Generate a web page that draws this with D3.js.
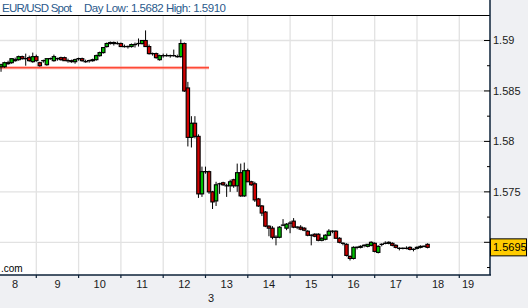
<!DOCTYPE html>
<html>
<head>
<meta charset="utf-8">
<script src="https://cdn.jsdelivr.net/npm/d3@7"></script>
<style>
html, body { margin: 0; padding: 0; background: #eff0f3; }
svg { display: block; font-family: "Liberation Sans", Arial, sans-serif; }
</style>
</head>
<body>
<svg id="chart" width="528" height="308"></svg>
<script>
// --- Chart data ---
const title = "EUR/USD Spot";
const dayLow = "1.5682";
const dayHigh = "1.5910";
const lastPrice = 1.5695;
const refLevel = 1.5873;      // red reference line
const refLevelEndDay = 13.083;
const dayLabels = [8, 9, 10, 11, 12, 13, 14, 15, 16, 17, 18, 19];
const monthLabel = "3";
const priceTicks = [1.57, 1.575, 1.58, 1.585, 1.59];
const priceMinorTicks = [1.5675, 1.5725, 1.5775, 1.5825, 1.5875];

// 2-hour candles, first one centred at 04:00 on day 8
const firstCandleDay = 8;
const firstCandleHour = 4;
const candleHours = 2;

const opens = [
  1.5874,1.5874,1.5878,1.5878,1.5881,1.5881,1.5884,1.5882,1.5883,1.5879,
  1.5884,1.5878,1.5880,1.5876,1.5882,1.5880,1.5882,1.5883,1.5883,1.5880,
  1.5880,1.5879,1.5882,1.5882,1.5879,1.5880,1.5880,1.5881,1.5885,1.5888,
  1.5894,1.5897,1.5898,1.5897,1.5897,1.5894,1.5894,1.5894,1.5896,1.5897,
  1.5897,1.5900,1.5894,1.5887,1.5887,1.5881,1.5885,1.5885,1.5885,1.5885,
  1.5884,1.5884,1.5897,1.5853,1.5804,1.5818,1.5805,1.5748,1.5770,1.5770,
  1.5750,1.5741,1.5758,1.5759,1.5756,1.5756,1.5762,1.5756,1.5769,1.5746,
  1.5771,1.5760,1.5758,1.5743,1.5736,1.5730,1.5716,1.5714,1.5705,1.5705,
  1.5717,1.5714,1.5719,1.5721,1.5715,1.5715,1.5714,1.5711,1.5707,1.5708,
  1.5708,1.5702,1.5703,1.5707,1.5711,1.5711,1.5704,1.5699,1.5698,1.5686,
  1.5684,1.5695,1.5695,1.5697,1.5696,1.5697,1.5699,1.5690,1.5698,1.5699,
  1.5699,1.5699,1.5697,1.5694,1.5694,1.5694,1.5695,1.5693,1.5694,1.5695,
  1.5696,1.5698
];
const highs = [
  1.5877,1.5879,1.5880,1.5882,1.5883,1.5885,1.5885,1.5887,1.5885,1.5888,
  1.5886,1.5879,1.5881,1.5882,1.5883,1.5886,1.5883,1.5884,1.5884,1.5882,
  1.5881,1.5882,1.5883,1.5883,1.5881,1.5881,1.5882,1.5886,1.5889,1.5893,
  1.5898,1.5899,1.5899,1.5899,1.5898,1.5896,1.5895,1.5897,1.5898,1.5902,
  1.5900,1.5910,1.5896,1.5888,1.5888,1.5886,1.5887,1.5887,1.5886,1.5891,
  1.5886,1.5901,1.5898,1.5859,1.5825,1.5825,1.5807,1.5775,1.5775,1.5771,
  1.5751,1.5760,1.5759,1.5760,1.5758,1.5762,1.5763,1.5778,1.5778,1.5779,
  1.5773,1.5761,1.5760,1.5744,1.5737,1.5731,1.5717,1.5716,1.5707,1.5716,
  1.5723,1.5719,1.5721,1.5724,1.5716,1.5717,1.5715,1.5712,1.5708,1.5709,
  1.5709,1.5705,1.5708,1.5713,1.5712,1.5712,1.5705,1.5700,1.5699,1.5687,
  1.5696,1.5696,1.5697,1.5698,1.5698,1.5701,1.5700,1.5697,1.5699,1.5701,
  1.5701,1.5700,1.5698,1.5695,1.5695,1.5696,1.5696,1.5694,1.5696,1.5697,
  1.5697,1.5699
];
const lows = [
  1.5869,1.5873,1.5876,1.5877,1.5879,1.5880,1.5881,1.5875,1.5879,1.5878,
  1.5879,1.5874,1.5878,1.5875,1.5881,1.5879,1.5880,1.5880,1.5880,1.5878,
  1.5878,1.5877,1.5880,1.5879,1.5878,1.5878,1.5879,1.5880,1.5884,1.5887,
  1.5893,1.5896,1.5895,1.5896,1.5894,1.5893,1.5892,1.5893,1.5893,1.5894,
  1.5896,1.5894,1.5886,1.5885,1.5882,1.5880,1.5883,1.5884,1.5883,1.5884,
  1.5883,1.5883,1.5849,1.5795,1.5794,1.5803,1.5744,1.5745,1.5768,1.5748,
  1.5733,1.5736,1.5748,1.5756,1.5745,1.5750,1.5754,1.5750,1.5745,1.5745,
  1.5760,1.5756,1.5740,1.5735,1.5726,1.5715,1.5706,1.5703,1.5697,1.5704,
  1.5716,1.5712,1.5709,1.5714,1.5713,1.5712,1.5711,1.5706,1.5697,1.5705,
  1.5701,1.5701,1.5702,1.5706,1.5709,1.5704,1.5699,1.5697,1.5686,1.5682,
  1.5683,1.5693,1.5694,1.5695,1.5695,1.5696,1.5690,1.5689,1.5696,1.5698,
  1.5698,1.5696,1.5694,1.5692,1.5693,1.5693,1.5692,1.5691,1.5693,1.5694,
  1.5695,1.5694
];
const closes = [
  1.5876,1.5878,1.5877,1.5882,1.5880,1.5884,1.5882,1.5882,1.5880,1.5884,
  1.5880,1.5875,1.5880,1.5882,1.5882,1.5884,1.5882,1.5881,1.5880,1.5880,
  1.5879,1.5881,1.5882,1.5880,1.5879,1.5880,1.5881,1.5885,1.5888,1.5893,
  1.5897,1.5898,1.5897,1.5897,1.5894,1.5894,1.5894,1.5896,1.5896,1.5897,
  1.5900,1.5894,1.5887,1.5887,1.5883,1.5885,1.5885,1.5885,1.5885,1.5885,
  1.5884,1.5897,1.5850,1.5804,1.5818,1.5805,1.5748,1.5770,1.5770,1.5750,
  1.5740,1.5757,1.5758,1.5757,1.5756,1.5760,1.5756,1.5769,1.5746,1.5771,
  1.5760,1.5757,1.5742,1.5736,1.5729,1.5716,1.5714,1.5705,1.5705,1.5715,
  1.5717,1.5718,1.5719,1.5715,1.5715,1.5713,1.5712,1.5707,1.5707,1.5706,
  1.5702,1.5704,1.5707,1.5711,1.5711,1.5704,1.5700,1.5699,1.5687,1.5684,
  1.5695,1.5695,1.5696,1.5697,1.5698,1.5700,1.5691,1.5696,1.5698,1.5699,
  1.5700,1.5697,1.5695,1.5694,1.5694,1.5694,1.5693,1.5693,1.5695,1.5696,
  1.5696,1.5695
];

// --- Layout ---
const plotRight = 490, plotTop = 15, plotBottom = 275;
const upColor = "#00c000", downColor = "#d00000";
const gridColor = "#e2e2e2", axisColor = "#0d2238";

const candles = opens.map((o, i) => ({
  t: firstCandleDay + (firstCandleHour + i * candleHours) / 24,
  o, h: highs[i], l: lows[i], c: closes[i]
}));

const x = d3.scaleLinear().domain([8.142, 19.726]).range([0, plotRight]);
const y = d3.scaleLinear().domain([1.56676, 1.592527]).range([plotBottom, plotTop]);

const svg = d3.select("#chart");

svg.append("rect").attr("width", 528).attr("height", 308).attr("fill", "#eff0f3");
svg.append("rect").attr("width", plotRight).attr("height", plotBottom).attr("fill", "#fff");

svg.append("defs").append("clipPath").attr("id", "plotClip")
  .append("rect").attr("x", 0).attr("y", plotTop)
  .attr("width", plotRight).attr("height", plotBottom - plotTop);

// Grid
const grid = svg.append("g");
grid.selectAll(".hgrid").data(priceTicks).join("line")
  .attr("x1", 0).attr("x2", plotRight)
  .attr("y1", d => y(d)).attr("y2", d => y(d))
  .attr("stroke", gridColor).attr("stroke-width", 1.3);
grid.selectAll(".vgrid").data(dayLabels.slice(1)).join("line")
  .attr("x1", d => x(d)).attr("x2", d => x(d))
  .attr("y1", plotTop).attr("y2", plotBottom)
  .attr("stroke", gridColor).attr("stroke-width", 1.3);

// Reference line
const ref = svg.append("g");
ref.append("line")
  .attr("x1", 0).attr("x2", x(refLevelEndDay))
  .attr("y1", y(refLevel)).attr("y2", y(refLevel))
  .attr("stroke", "#ff8a80").attr("stroke-width", 3.2).attr("stroke-opacity", 0.7);
ref.append("line")
  .attr("x1", 0).attr("x2", x(refLevelEndDay))
  .attr("y1", y(refLevel)).attr("y2", y(refLevel))
  .attr("stroke", "#ff2a10").attr("stroke-width", 1.2);

// Candles
const cg = svg.append("g").attr("clip-path", "url(#plotClip)");
cg.selectAll(".wick").data(candles).join("line")
  .attr("x1", d => x(d.t)).attr("x2", d => x(d.t))
  .attr("y1", d => y(d.h)).attr("y2", d => y(d.l))
  .attr("stroke", "#000").attr("stroke-width", 1);

cg.selectAll(".body").data(candles.filter(d => d.o !== d.c)).join("rect")
  .attr("x", d => x(d.t) - 1.7)
  .attr("width", 3.4)
  .attr("y", d => y(Math.max(d.o, d.c)))
  .attr("height", d => Math.abs(y(d.o) - y(d.c)))
  .attr("fill", d => d.c > d.o ? upColor : downColor)
  .attr("stroke", "#000").attr("stroke-width", 1.1);

cg.selectAll(".doji").data(candles.filter(d => d.o === d.c)).join("line")
  .attr("x1", d => x(d.t) - 2.2).attr("x2", d => x(d.t) + 2.2)
  .attr("y1", d => y(d.o)).attr("y2", d => y(d.o))
  .attr("stroke", "#000").attr("stroke-width", 1.3);

// Frame lines
svg.append("line").attr("x1", 0).attr("x2", plotRight)
  .attr("y1", plotTop + 0.5).attr("y2", plotTop + 0.5)
  .attr("stroke", "#000").attr("stroke-width", 1);
svg.append("line").attr("x1", 0).attr("x2", plotRight + 1)
  .attr("y1", plotBottom).attr("y2", plotBottom)
  .attr("stroke", axisColor).attr("stroke-width", 1.5);
svg.append("line").attr("x1", plotRight).attr("x2", plotRight)
  .attr("y1", 0).attr("y2", plotBottom)
  .attr("stroke", axisColor).attr("stroke-width", 1.5);

// Y ticks (inward) and labels; the label under the price box is hidden
svg.selectAll(".ytick").data(priceTicks).join("line")
  .attr("x1", plotRight - 6).attr("x2", plotRight)
  .attr("y1", d => y(d)).attr("y2", d => y(d))
  .attr("stroke", "#000").attr("stroke-width", 1);
svg.selectAll(".yminor").data(priceMinorTicks).join("line")
  .attr("x1", plotRight - 3).attr("x2", plotRight)
  .attr("y1", d => y(d)).attr("y2", d => y(d))
  .attr("stroke", "#000").attr("stroke-width", 1);
svg.selectAll(".ylabel")
  .data(priceTicks.filter(d => Math.abs(y(d) - y(lastPrice)) > 12))
  .join("text")
  .attr("x", plotRight + 3).attr("y", d => y(d) + 4)
  .attr("font-size", 11).attr("fill", "#1a1a1a")
  .text(d => d3.format(".4~f")(d));

// X ticks and labels
svg.selectAll(".xtick").data(dayLabels.slice(1)).join("line")
  .attr("x1", d => x(d)).attr("x2", d => x(d))
  .attr("y1", plotBottom).attr("y2", plotBottom + 3)
  .attr("stroke", axisColor).attr("stroke-width", 1.2);
svg.selectAll(".xlabel").data(dayLabels).join("text")
  .attr("x", d => Math.min(x(d + 0.5), plotRight - 22))
  .attr("y", 288)
  .attr("text-anchor", "middle")
  .attr("font-size", 11).attr("fill", "#1a1a1a")
  .text(d => d);
svg.append("text").attr("x", 211).attr("y", 302)
  .attr("text-anchor", "middle").attr("font-size", 11).attr("fill", "#1a1a1a")
  .text(monthLabel);

// Current price box
const py = y(lastPrice);
svg.append("rect").attr("x", plotRight + 0.5).attr("y", py - 8.5)
  .attr("width", 36).attr("height", 17)
  .attr("fill", "#ffcc00").attr("stroke", "#000").attr("stroke-width", 1);
svg.append("text").attr("x", plotRight + 3).attr("y", py + 4)
  .attr("font-size", 11).attr("fill", "#000")
  .text(d3.format(".4f")(lastPrice));

// Header & watermark
svg.append("text").attr("x", 2).attr("y", 11.5)
  .attr("font-size", 11.5).attr("fill", "#2a5a8c")
  .attr("textLength", 70).attr("lengthAdjust", "spacing")
  .text(title);
svg.append("text").attr("x", 84).attr("y", 11.5)
  .attr("font-size", 11.5).attr("fill", "#2a5a8c")
  .attr("textLength", 142).attr("lengthAdjust", "spacing")
  .text(`Day Low: ${dayLow} High: ${dayHigh}`);
svg.append("text").attr("x", 1).attr("y", 271.5)
  .attr("font-size", 10).attr("fill", "#000").text(".com");
</script>
</body>
</html>
